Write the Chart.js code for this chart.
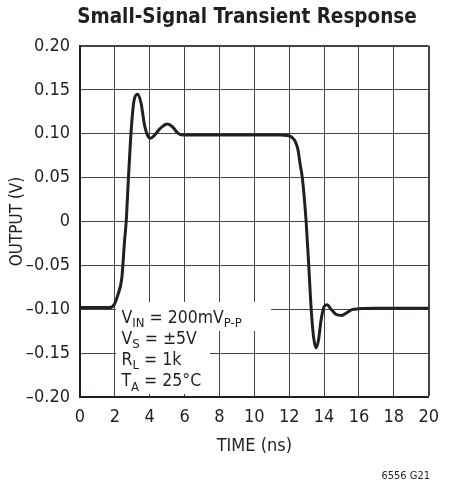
<!DOCTYPE html>
<html>
<head>
<meta charset="utf-8">
<script src="https://cdn.jsdelivr.net/npm/chart.js@4.4.1/dist/chart.umd.min.js"></script>
<style>
  html, body { margin: 0; padding: 0; background: #fff; }
  #wrap { width: 449px; height: 487px; }
</style>
</head>
<body>
<div id="wrap"><canvas id="chart" width="449" height="487"></canvas></div>
<script>
"use strict";

/* ── data ──────────────────────────────────────────────────────────────── */
const TIME_NS = [0, 1.0, 1.7, 1.95, 2.18, 2.4, 2.56, 2.65, 2.78, 2.94, 3.1, 3.3,
  3.5, 3.7, 3.9, 4.05, 4.3, 4.6, 5.0, 5.3, 5.6, 5.9, 6.5, 11.5, 11.9, 12.15, 12.35,
  12.5, 12.62, 12.75, 12.97, 13.12, 13.26, 13.4, 13.54, 13.68, 13.83, 14.0, 14.17,
  14.4, 14.7, 15.0, 15.3, 15.6, 16.0, 17.0, 20.0];
const OUTPUT_V = [-0.098, -0.098, -0.098, -0.095, -0.083, -0.064, -0.021, 0.0, 0.05,
  0.105, 0.138, 0.145, 0.135, 0.11, 0.097, 0.095, 0.099, 0.106, 0.111, 0.108, 0.101,
  0.0985, 0.0985, 0.0985, 0.098, 0.096, 0.091, 0.082, 0.066, 0.05, 0.0, -0.05, -0.1,
  -0.132, -0.144, -0.135, -0.112, -0.097, -0.095, -0.1, -0.106, -0.107, -0.104,
  -0.1005, -0.0995, -0.099, -0.099];

const TITLE = "Small-Signal Transient Response";
const X_TITLE = "TIME (ns)";
const Y_TITLE = "OUTPUT (V)";
const FOOTNOTE = "6556 G21";
const X_MIN = 0, X_MAX = 20, X_STEP = 2;
const Y_MIN = -0.2, Y_MAX = 0.2, Y_STEP = 0.05;

// conditions box: [text, isSubscript]
const NOTE_LINES = [
  [["V", 0], ["IN", 1], [" = 200mV", 0], ["P-P", 1]],
  [["V", 0], ["S", 1], [" = \u00b15V", 0]],
  [["R", 0], ["L", 1], [" = 1k", 0]],
  [["T", 0], ["A", 1], [" = 25\u00b0C", 0]],
];

const FONT = "'Liberation Sans Narrow', 'DejaVu Sans Condensed', 'Arial Narrow', sans-serif";
const INK = "#231f20";
const GRID = "#444";

/* ── title, footnote and conditions box ────────────────────────────────── */
const extras = {
  id: "extras",
  beforeDatasetsDraw(chart) {
    const ctx = chart.ctx;
    ctx.save();
    // white patches knock the grid out behind the text
    ctx.fillStyle = "#fff";
    ctx.fillRect(116, 302, 155, 29);
    ctx.fillRect(116, 331, 94, 63);

    ctx.fillStyle = INK;
    ctx.textBaseline = "alphabetic";
    ctx.textAlign = "left";
    let y = 322.5;
    NOTE_LINES.forEach(line => {
      let x = 121.5;
      line.forEach(([txt, sub]) => {
        ctx.font = (sub ? "13px " : "17.5px ") + FONT;
        ctx.fillText(txt, x, sub ? y + 4.3 : y);
        x += ctx.measureText(txt).width;
      });
      y += 21.3;
    });
    ctx.restore();
  },
  afterDraw(chart) {
    const ctx = chart.ctx;
    ctx.save();
    ctx.fillStyle = INK;
    ctx.textAlign = "center";
    ctx.textBaseline = "alphabetic";
    ctx.font = "bold 20.5px " + FONT;
    ctx.fillText(TITLE, 247, 23);
    ctx.textAlign = "right";
    ctx.font = "11px " + FONT;
    ctx.fillText(FOOTNOTE, 430, 479);
    ctx.restore();
  },
};

const points = TIME_NS.map((t, i) => ({ x: t, y: OUTPUT_V[i] }));

new Chart(document.getElementById("chart"), {
  type: "line",
  data: {
    datasets: [{
      data: points,
      borderColor: INK,
      borderWidth: 3,
      pointRadius: 0,
      fill: false,
      cubicInterpolationMode: "monotone",
    }],
  },
  options: {
    responsive: false,
    animation: false,
    layout: { padding: { top: 46, left: 0, right: 17, bottom: 0 } },
    plugins: { legend: { display: false }, tooltip: { enabled: false } },
    scales: {
      x: {
        type: "linear", min: X_MIN, max: X_MAX,
        afterFit: s => { s.height = 90; },
        ticks: { stepSize: X_STEP, color: INK, padding: 10, font: { family: FONT, size: 18 } },
        grid: {
          color: GRID, drawTicks: false,
          lineWidth: c => (c.tick && c.tick.value === X_MAX ? 2 : 1),
        },
        border: { color: INK, width: 2 },
        title: {
          display: true, text: X_TITLE, color: INK,
          font: { family: FONT, size: 18, lineHeight: 1.2 },
          padding: { top: 0, bottom: 30 },
        },
      },
      y: {
        type: "linear", min: Y_MIN, max: Y_MAX,
        afterFit: s => { s.width = 80; },
        ticks: {
          stepSize: Y_STEP, color: INK, padding: 10,
          font: { family: FONT, size: 18 },
          callback: v => Math.abs(v) < 1e-9 ? "0"
            : (v < 0 ? "\u2013" : "") + Math.abs(v).toFixed(2),
        },
        grid: {
          color: GRID, drawTicks: false,
          lineWidth: c => (c.tick && Math.abs(c.tick.value - Y_MAX) < 1e-9 ? 2 : 1),
        },
        border: { color: INK, width: 2 },
        title: {
          display: true, text: Y_TITLE, color: INK,
          font: { family: FONT, size: 17, lineHeight: 1.2 },
          padding: { top: 7, bottom: 0 },
        },
      },
    },
  },
  plugins: [extras],
});
</script>
</body>
</html>
